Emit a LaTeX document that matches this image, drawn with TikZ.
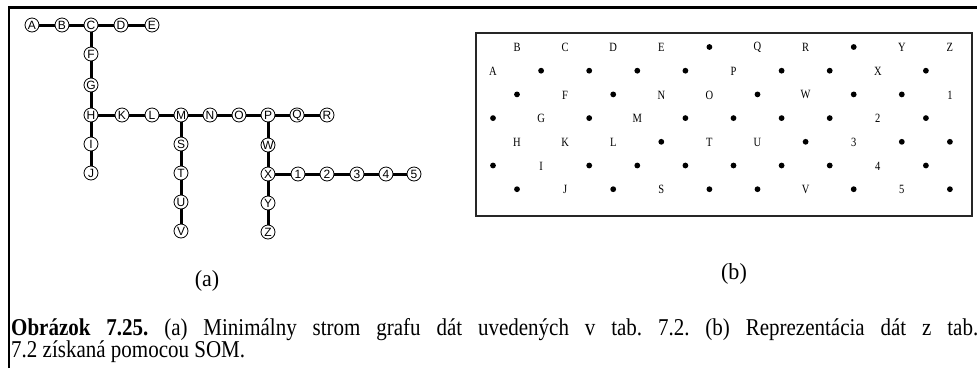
\documentclass[tikz,border=0pt]{standalone}
\usepackage{fontspec}
\setmainfont{Liberation Serif}
\newfontfamily\treefont{Liberation Sans}
\newcommand{\tallbox}[1]{\scalebox{1}[1.15]{#1}}
\frenchspacing
\begin{document}
\begin{tikzpicture}[x=1pt,y=-1pt,
  tn/.style={circle, draw, line width=0.8pt, fill=white, minimum size=14pt, inner sep=0pt, font=\treefont\fontsize{12}{12}\selectfont},
  te/.style={line width=3pt},
  gl/.style={inner sep=0pt, font=\fontsize{10.5}{10.5}\selectfont},
  gd/.style={circle, fill=black, inner sep=0pt, minimum size=5.8pt},
  frame/.style={line width=2.6pt},
  boxb/.style={line width=1.1pt, draw=black!85},
  lab/.style={font=\fontsize{21}{21}\selectfont, inner sep=0pt},
  capt/.style={anchor=base west, inner sep=0pt, font=\fontsize{21}{22}\selectfont}
]
\useasboundingbox (0,0) rectangle (977,368);
% outer frame
\coordinate (fa) at (9,368);
\coordinate (fb) at (9,7.5);
\coordinate (fc) at (977,7.5);
\draw[frame] (fa) -- (fb) -- (fc);
% box (b)
\draw[boxb] (476,33) rectangle (972,216);
% tree nodes
\node[tn] (A) at (32,25) {A};
\node[tn] (B) at (62,25) {B};
\node[tn] (C) at (91,25) {C};
\node[tn] (D) at (121,25) {D};
\node[tn] (E) at (152,25) {E};
\node[tn] (F) at (91,54) {F};
\node[tn] (G) at (91,85) {G};
\node[tn] (H) at (91,115) {H};
\node[tn] (I) at (91,144) {I};
\node[tn] (J) at (91,173) {J};
\node[tn] (K) at (122,115) {K};
\node[tn] (L) at (152,115) {L};
\node[tn] (M) at (181,115) {M};
\node[tn] (N) at (210,115) {N};
\node[tn] (O) at (239,115) {O};
\node[tn] (P) at (268,115) {P};
\node[tn] (Q) at (297,115) {Q};
\node[tn] (R) at (327,115) {R};
\node[tn] (S) at (181,144) {S};
\node[tn] (T) at (181,173) {T};
\node[tn] (U) at (181,202) {U};
\node[tn] (V) at (181,231) {V};
\node[tn] (W) at (268,145) {W};
\node[tn] (X) at (268,174) {X};
\node[tn] (Y) at (268,203) {Y};
\node[tn] (Z) at (268,232) {Z};
\node[tn] (n1) at (298,174) {1};
\node[tn] (n2) at (327,174) {2};
\node[tn] (n3) at (357,174) {3};
\node[tn] (n4) at (386,174) {4};
\node[tn] (n5) at (414,174) {5};
% tree edges
\draw[te] (A) -- (B); \draw[te] (B) -- (C); \draw[te] (C) -- (D); \draw[te] (D) -- (E);
\draw[te] (C) -- (F); \draw[te] (F) -- (G); \draw[te] (G) -- (H);
\draw[te] (H) -- (I); \draw[te] (I) -- (J);
\draw[te] (H) -- (K); \draw[te] (K) -- (L); \draw[te] (L) -- (M); \draw[te] (M) -- (N);
\draw[te] (N) -- (O); \draw[te] (O) -- (P); \draw[te] (P) -- (Q); \draw[te] (Q) -- (R);
\draw[te] (M) -- (S); \draw[te] (S) -- (T); \draw[te] (T) -- (U); \draw[te] (U) -- (V);
\draw[te] (P) -- (W); \draw[te] (W) -- (X); \draw[te] (X) -- (Y); \draw[te] (Y) -- (Z);
\draw[te] (X) -- (n1); \draw[te] (n1) -- (n2); \draw[te] (n2) -- (n3); \draw[te] (n3) -- (n4); \draw[te] (n4) -- (n5);
% SOM grid
\foreach \rowlist [count=\r from 0] in {
  {B,C,D,E,*,Q,R,*,Y,Z},
  {A,*,*,*,*,P,*,*,X,*},
  {*,F,*,N,O,*,W,*,*,1},
  {*,G,*,M,*,*,*,*,2,*},
  {H,K,L,*,T,U,*,3,*,*},
  {*,I,*,*,*,*,*,*,4,*},
  {*,J,*,S,*,*,V,*,5,*}}{
  \foreach \it [count=\i from 0] in \rowlist {
    \pgfmathsetmacro{\gx}{493+24*(1-mod(\r,2))+48.1*\i}
    \pgfmathsetmacro{\gy}{47+23.7*\r}
    \if\it*
      \node[gd] (g\r-\i) at (\gx,\gy) {};
    \else
      \node[gl] (g\r-\i) at (\gx,\gy+0.5) {\scalebox{1}[1.2]{\it}};
    \fi
  }
}
% labels
\node[lab] (la) at (207,281) {\scalebox{1.05}[1.1]{(a)}};
\node[lab] (lb) at (734,274) {\scalebox{1.05}[1.1]{(b)}};
% caption
\node[capt] (cap1) at (11,335)
  {\tallbox{\makebox[967pt][s]{\textbf{Obrázok 7.25.} (a) Minimálny strom grafu dát uvedených v tab. 7.2. (b) Reprezentácia dát z tab.}}};
\node[capt] (cap2) at (11,357.5)
  {\tallbox{7.2 získaná pomocou SOM.}};
\end{tikzpicture}
\end{document}
